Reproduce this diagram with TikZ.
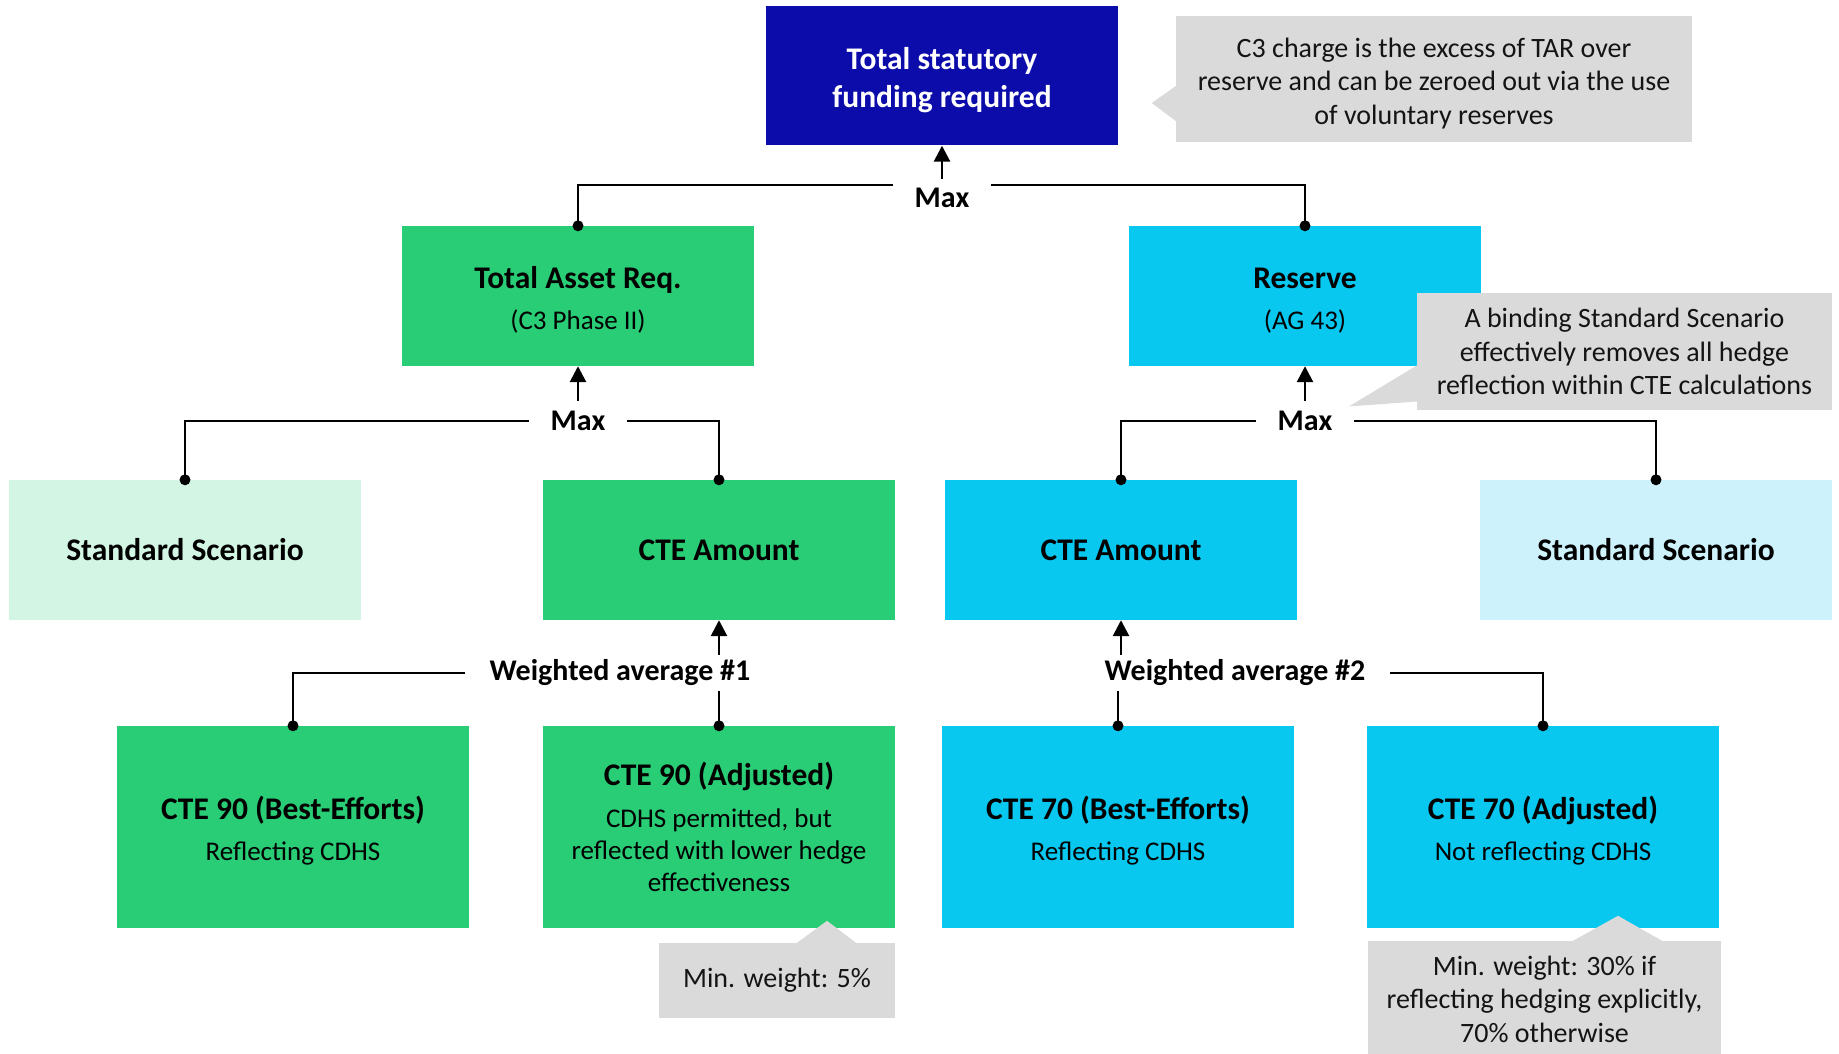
\documentclass[tikz,border=0pt]{standalone}
\usepackage{fontspec}
\setmainfont{Carlito}
\usetikzlibrary{arrows.meta}
\definecolor{navy}{RGB}{12,12,170}
\definecolor{grn}{RGB}{41,205,118}
\definecolor{lgrn}{RGB}{211,245,227}
\definecolor{cyn}{RGB}{8,200,240}
\definecolor{lcyn}{RGB}{205,242,252}
\definecolor{cgray}{RGB}{218,218,218}
\definecolor{ink}{RGB}{20,20,20}
\newcommand{\mytitle}{\fontsize{31.5}{38}\selectfont\bfseries}
\newcommand{\mylabel}{\fontsize{30}{36}\selectfont\bfseries}
\newcommand{\mybody}{\fontsize{27}{32}\selectfont}
\newcommand{\mycall}{\fontsize{28}{33.5}\selectfont}
\newcommand{\up}{\rule{0pt}{30pt}}
\tikzset{
  box/.style={minimum width=352pt, inner sep=0pt, align=center, text=black, font=\mybody},
  sbox/.style={box, minimum height=140pt},
  bbox/.style={box, minimum height=202pt},
  conn/.style={line width=2.7pt, draw=black},
  arr/.style={conn, -{Triangle[length=16pt,width=16pt]}},
  maxlbl/.style={font=\mylabel, inner xsep=22pt, inner ysep=0pt},
  wlbl/.style={font=\mylabel, inner xsep=24pt, inner ysep=5pt},
  callout/.style={fill=cgray, inner sep=0pt, align=center, font=\mycall, text=ink},
}
\begin{document}
\begin{tikzpicture}[x=1pt,y=-1pt]
\useasboundingbox (0,0) rectangle (1839,1054);
% boxes
\node[box, minimum height=139pt, fill=navy, text=white, font=\mytitle] (top) at (942,76) {\up Total statutory\\funding required};
\node[sbox, fill=grn] (tar) at (578,296) {{\mytitle\up Total Asset Req.}\\[9pt](C3 Phase II)};
\node[sbox, fill=cyn] (res) at (1305,296) {{\mytitle\up Reserve}\\[9pt](AG 43)};
\node[sbox, fill=lgrn, font=\mytitle] (ssL) at (185,550) {Standard Scenario};
\node[sbox, fill=grn, font=\mytitle] (cteG) at (719,550) {CTE Amount};
\node[sbox, fill=cyn, font=\mytitle] (cteB) at (1121,550) {CTE Amount};
\node[sbox, fill=lcyn, font=\mytitle] (ssR) at (1656,550) {Standard Scenario};
\node[bbox, fill=grn] (b1) at (293,827) {{\mytitle\up CTE 90 (Best-Efforts)}\\[9pt]Reflecting CDHS};
\node[bbox, fill=grn] (b2) at (719,827) {{\mytitle CTE 90 (Adjusted)}\\[10pt]CDHS permitted, but\\reflected with lower hedge\\effectiveness};
\node[bbox, fill=cyn] (b3) at (1118,827) {{\mytitle\up CTE 70 (Best-Efforts)}\\[9pt]Reflecting CDHS};
\node[bbox, fill=cyn] (b4) at (1543,827) {{\mytitle\up CTE 70 (Adjusted)}\\[9pt]Not reflecting CDHS};
% labels
\node[maxlbl] (m0) at (942,198) {Max};
\node[maxlbl] (m1) at (578,421) {Max};
\node[maxlbl] (m2) at (1305,421) {Max};
\node[wlbl] (wa1) at (620,673) {Weighted average \#1};
\node[wlbl] (wa2) at (1235,673) {Weighted average \#2};
% connectors level 1
\draw[arr] ([yshift=9pt]m0.north) -- (top.south);
\draw[conn] (tar.north) |- ([yshift=13pt]m0.west);
\draw[conn] (res.north) |- ([yshift=13pt]m0.east);
% level 2
\draw[arr] ([yshift=10pt]m1.north) -- (tar.south);
\draw[conn] (ssL.north) |- (m1.west);
\draw[conn] (cteG.north) |- (m1.east);
\draw[arr] ([yshift=10pt]m2.north) -- (res.south);
\draw[conn] (cteB.north) |- (m2.west);
\draw[conn] (ssR.north) |- (m2.east);
% level 3
\draw[conn] (b1.north) |- (wa1.west);
\draw[arr] (cteG.south |- wa1.north) -- (cteG.south);
\draw[conn] (b2.north) -- (b2.north |- wa1.south);
\draw[arr] (cteB.south |- wa2.north) -- (cteB.south);
\draw[conn] (b3.north) -- (b3.north |- wa2.south);
\draw[conn] (b4.north) |- (wa2.east);
% dots at connector ends
\foreach \n in {tar,res,ssL,cteG,cteB,ssR,b1,b2,b3,b4}
  \fill[black] (\n.north) circle[radius=5.5pt];
% callouts
\node[callout, minimum width=516pt, minimum height=126pt] (c1) at (1434,79)
  {\rule{0pt}{28pt}C3 charge is the excess of TAR over\\reserve and can be zeroed out via the use\\of voluntary reserves};
\fill[cgray] ([yshift=-7pt]c1.west) -- ([shift={(-24pt,-24pt)}]c1.west) -- ([yshift=-42pt]c1.west) -- cycle;
\node[callout, minimum width=415pt, minimum height=117pt] (c2) at (1624.5,351.5)
  {A binding Standard Scenario\\effectively removes all hedge\\reflection within CTE calculations};
\fill[cgray] ([yshift=-14pt]c2.west) -- ([shift={(-68pt,-55pt)}]c2.west) -- ([yshift=-50pt]c2.west) -- cycle;
\node[callout, minimum width=236pt, minimum height=75pt] (c3) at (777,980.5) {Min. weight: 5\%};
\fill[cgray] ([xshift=20pt]c3.north) -- ([shift={(50pt,22pt)}]c3.north) -- ([xshift=79pt]c3.north) -- cycle;
\node[callout, minimum width=353pt, minimum height=116pt] (c4) at (1544.5,999)
  {Min. weight: 30\% if\\reflecting hedging explicitly,\\70\% otherwise};
\fill[cgray] ([xshift=28.5pt]c4.north) -- ([shift={(73.5pt,25pt)}]c4.north) -- ([xshift=117.5pt]c4.north) -- cycle;
\end{tikzpicture}
\end{document}
